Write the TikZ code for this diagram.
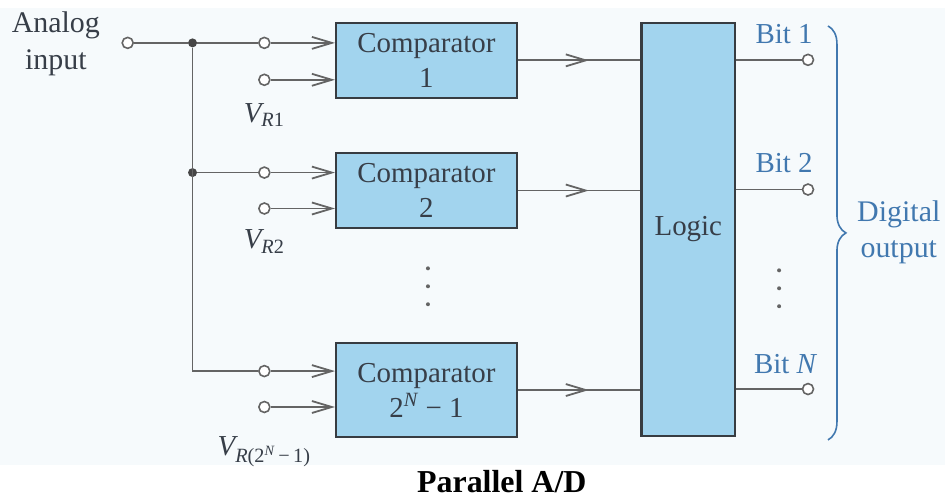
\documentclass[tikz,border=0pt]{standalone}
\usepackage{fontspec}
\setmainfont{Liberation Serif}
\usetikzlibrary{arrows.meta,decorations.markings,decorations.pathreplacing}

\definecolor{boxblue}{RGB}{162,212,238}
\definecolor{boxline}{RGB}{55,60,65}
\definecolor{wiregray}{RGB}{100,100,100}
\definecolor{textgray}{RGB}{55,62,72}
\definecolor{bitblue}{RGB}{65,120,175}
\definecolor{paper}{RGB}{246,250,252}

\begin{document}
\begin{tikzpicture}[x=0.5pt, y=-0.5pt,
    every node/.style={font=\rmfamily\fontsize{14.5}{17.5}\selectfont, text=textgray},
    compbox/.style={draw=boxline, line width=1.2pt, fill=boxblue, minimum width=90.5pt, align=center, inner sep=0pt},
    terminal/.style={circle, draw=wiregray, fill=white, line width=0.8pt, minimum size=5.5pt, inner sep=0pt},
    junction/.style={circle, fill=wiregray!70!black, minimum size=4.5pt, inner sep=0pt},
    wire/.style={draw=wiregray, line width=0.9pt},
    inarrow/.style={wire, -{Straight Barb[length=10pt,width=6pt]}},
    midarrow/.style={wire, postaction={decorate},
      decoration={markings, mark=at position 0.58 with {\arrow[wiregray]{Straight Barb[length=10pt,width=6pt]}}}},
    bitlabel/.style={text=bitblue},
    vdot/.style={circle, fill=wiregray, minimum size=2pt, inner sep=0pt}
  ]
    % Background
    \fill[white] (0,0) rectangle (947,501);
    \fill[paper] (0,8) rectangle (947,466);

    % Blocks
    \node[compbox, minimum height=37.5pt] (comp1) at (427.5,60.5) {Comparator\\1};
    \node[compbox, minimum height=37.5pt] (comp2) at (427.5,191) {Comparator\\2};
    \node[compbox, minimum height=47pt] (comp3) at (427.5,391) {Comparator\\2\textsuperscript{\itshape N} − 1};
    \node[compbox, minimum width=47pt, minimum height=207pt] (logic) at (690,230) {Logic};

    % Input side
    \node[align=center, font=\rmfamily\fontsize{15}{18.5}\selectfont] (alabel) at (56,44) {Analog\\input};
    \node[terminal] (ain) at (128,43) {};
    \node[junction] (j1) at (193,43) {};
    \node[junction] (j2) at (193,173) {};
    \node[terminal] (t1a) at (265,43) {};
    \node[terminal] (t1b) at (265,80) {};
    \node[terminal] (t2a) at (265,173) {};
    \node[terminal] (t2b) at (265,209) {};
    \node[terminal] (t3a) at (265,372) {};
    \node[terminal] (t3b) at (265,408) {};
    \node (vr1) at (265,115) {\itshape V\textsubscript{\itshape R\upshape 1}};
    \node (vr2) at (265,242) {\itshape V\textsubscript{\itshape R\upshape 2}};
    \node (vr3) at (265,453) {\itshape V\textsubscript{\itshape R\upshape (2\textsuperscript{\itshape N}\,−\,1)}};

    % Outputs
    \node[terminal] (b1) at (810,60) {};
    \node[terminal] (b2) at (810,190) {};
    \node[terminal] (bN) at (810,390) {};
    \node[bitlabel] (b1label) at (786,34) {Bit 1};
    \node[bitlabel] (b2label) at (786,163) {Bit 2};
    \node[bitlabel] (bNlabel) at (787,365) {Bit \itshape N};
    \node[bitlabel, align=center, font=\rmfamily\fontsize{15}{18}\selectfont] (dlabel) at (901,233) {Digital\\output};

    % Dots
    \foreach \y in {269,287,305} \node[vdot] at (429,\y) {};
    \foreach \y in {271,289,307} \node[vdot] at (781,\y) {};

    % Wires
    \draw[wire] (ain) -- (j1) -- (t1a);
    \draw[wire] (j1) |- (t3a);
    \draw[wire] (j2) -- (t2a);
    \draw[inarrow] (t1a) -- (t1a -| comp1.west);
    \draw[inarrow] (t1b) -- (t1b -| comp1.west);
    \draw[inarrow] (t2a) -- (t2a -| comp2.west);
    \draw[inarrow] (t2b) -- (t2b -| comp2.west);
    \draw[inarrow] (t3a) -- (t3a -| comp3.west);
    \draw[inarrow] (t3b) -- (t3b -| comp3.west);
    \draw[midarrow] (comp1.east) -- (comp1.east -| logic.west);
    \draw[midarrow] (comp2.east) -- (comp2.east -| logic.west);
    \draw[midarrow] (comp3.east) -- (comp3.east -| logic.west);
    \draw[wire] (logic.east |- b1) -- (b1);
    \draw[wire] (logic.east |- b2) -- (b2);
    \draw[wire] (logic.east |- bN) -- (bN);

    % Brace
    \draw[bitblue, line width=0.8pt, decorate, decoration={brace, amplitude=9pt}] (830,26) -- (830,441);

    % Title
    \node[text=black, font=\rmfamily\fontsize{16}{19}\selectfont\bfseries] (title) at (503,483) {Parallel A/D};
\end{tikzpicture}
\end{document}
